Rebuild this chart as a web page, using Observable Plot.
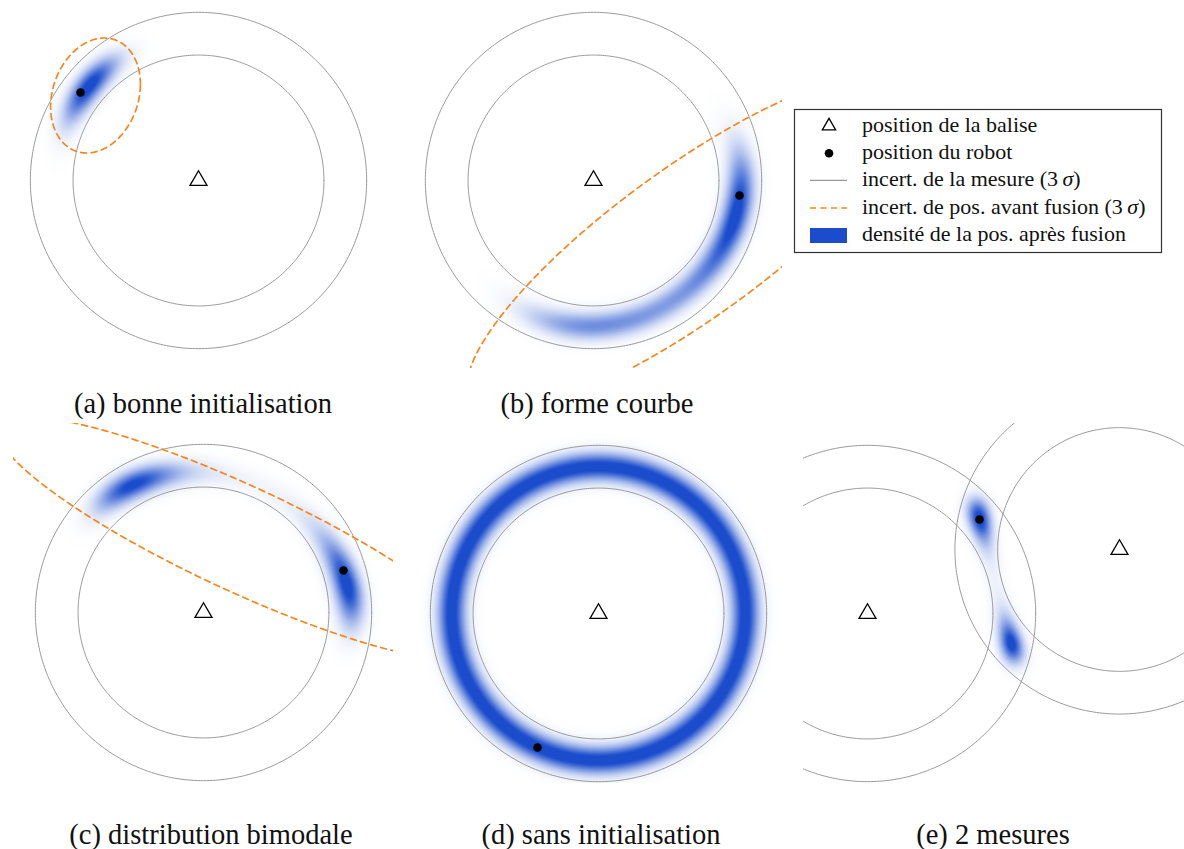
<!DOCTYPE html>
<html><head><meta charset="utf-8">
<script src="https://cdn.jsdelivr.net/npm/d3@7"></script>
<script src="https://cdn.jsdelivr.net/npm/@observablehq/plot@0.6"></script>
<style>
body{margin:0;background:#fff;}
#fig{position:relative;width:1184px;height:849px;overflow:hidden;font-family:"Liberation Serif","Times New Roman",serif;}
.panel{position:absolute;overflow:hidden;}
.panel svg{display:block;}
</style></head><body><div id="fig"></div>
<script>
// ---------------- data (world units) ----------------
const panelIds = ["a", "b", "c", "d", "e"];
const captions = ["(a) bonne initialisation", "(b) forme courbe", "(c) distribution bimodale", "(d) sans initialisation", "(e) 2 mesures"];
// beacons (balises) and their range measurement
const beaconPanel = ["a", "b", "c", "d", "e", "e"];
const beaconX = [0, 0, 0, 0, 0, 6.3];
const beaconY = [0, 0, 0, 0, 0, 1.6];
const rangeMeas = [3.67, 3.67, 3.67, 3.67, 3.67, 3.58];
const rangeSigma = 0.178;
// robot true position
const robotX = [-2.95, 3.65, 3.5, -1.525, 2.8];
const robotY = [2.2, -0.375, 1.05, -3.35, 2.35];
// prior position estimate before fusion (mean + covariance)
const priorPanel = ["a", "b", "c"];
const priorMeanX = [-2.575, 2.425, 0.93];
const priorMeanY = [2.125, -1.55, 1.85];
const priorVarX = [0.14, 3.465, 4.100];
const priorVarY = [0.2296, 2.002, 1.031];
const priorCovXY = [0.0351, 2.224, -1.811];
// legend labels
const legendLabels = ["position de la balise", "position du robot", "incert. de la mesure (3\u2009σ)", "incert. de pos. avant fusion (3\u2009σ)", "densité de la pos. après fusion"];

// ---------------- layout / style ----------------
const BLUE = "#1a4ccc", ORANGE = "#f5861f", GRAY = "#9a9a9a";
const PX = 40;      // pixels per world unit
const SAT = 0.85;   // colour saturation level (fraction of the peak)
const GAMMA = 0.6;  // colour ramp exponent
const layout = {
  a: {left: 8, top: 0, width: 386, height: 372, ox: 198, oy: 180},
  b: {left: 405, top: 0, width: 377, height: 368, ox: 593, oy: 180},
  c: {left: 13, top: 423, width: 380, height: 360, ox: 203, oy: 612},
  d: {left: 410, top: 423, width: 378, height: 360, ox: 598, oy: 613},
  e: {left: 803, top: 423, width: 381, height: 360, ox: 867, oy: 613}
};
const capPos = {a: [203, 413], b: [597, 413], c: [211, 844], d: [601, 844], e: [993, 844]};

const fig = document.getElementById("fig");

function buildPanel(id, pi) {
  const L = layout[id];
  const xd = [(L.left - L.ox) / PX, (L.left + L.width - L.ox) / PX];
  const yd = [(L.oy - L.top - L.height) / PX, (L.oy - L.top) / PX];
  const bIdx = d3.range(beaconPanel.length).filter(i => beaconPanel[i] === id);
  const k = priorPanel.indexOf(id);
  let prior = null;
  if (k >= 0) {
    const vx = priorVarX[k], vy = priorVarY[k], c = priorCovXY[k];
    const det = vx * vy - c * c;
    prior = {mx: priorMeanX[k], my: priorMeanY[k], ia: vy / det, ib: -c / det, ic: vx / det, vx, vy, c};
  }
  const logd = (x, y) => {
    let s = 0;
    for (const i of bIdx) {
      const z = (Math.hypot(x - beaconX[i], y - beaconY[i]) - rangeMeas[i]) / rangeSigma;
      s -= 0.5 * z * z;
    }
    if (prior) {
      const dx = x - prior.mx, dy = y - prior.my;
      s -= 0.5 * (dx * dx * prior.ia + 2 * dx * dy * prior.ib + dy * dy * prior.ic);
    }
    return s;
  };
  let peak = -Infinity;
  for (let x = xd[0]; x <= xd[1]; x += 0.025)
    for (let y = yd[0]; y <= yd[1]; y += 0.025) { const v = logd(x, y); if (v > peak) peak = v; }
  const dens = (x, y) => Math.exp(logd(x, y) - peak);

  const rings = [];
  bIdx.forEach(i => [-3, 3].forEach(s => {
    const R = rangeMeas[i] + s * rangeSigma;
    d3.range(0, 361).forEach(a => rings.push({ring: i + ":" + s, x: beaconX[i] + R * Math.cos(a * Math.PI / 180), y: beaconY[i] + R * Math.sin(a * Math.PI / 180)}));
  }));
  const ell = [];
  if (prior) {
    const l11 = Math.sqrt(prior.vx), l21 = prior.c / l11, l22 = Math.sqrt(prior.vy - l21 * l21);
    d3.range(0, 361).forEach(a => {
      const t = a * Math.PI / 180;
      ell.push({x: prior.mx + 3 * l11 * Math.cos(t), y: prior.my + 3 * (l21 * Math.cos(t) + l22 * Math.sin(t))});
    });
  }
  const beacons = bIdx.map(i => ({x: beaconX[i], y: beaconY[i]}));
  const robot = [{x: robotX[pi], y: robotY[pi]}];

  const plot = Plot.plot({
    width: L.width, height: L.height, margin: 0,
    style: {background: "transparent", overflow: "hidden"},
    x: {domain: xd, axis: null},
    y: {domain: yd, axis: null},
    color: {type: "pow", exponent: GAMMA, domain: [0, SAT], range: ["#ffffff", BLUE], clamp: true, interpolate: "rgb"},
    marks: [
      Plot.raster({x1: xd[0], x2: xd[1], y1: yd[0], y2: yd[1], fill: dens, pixelSize: 1}),
      Plot.line(rings, {x: "x", y: "y", z: "ring", stroke: GRAY, strokeWidth: 1, clip: true}),
      Plot.line(ell, {x: "x", y: "y", stroke: ORANGE, strokeWidth: 1.7, strokeDasharray: "6,4.5", clip: true}),
      Plot.dot(beacons, {x: "x", y: "y", symbol: "triangle", r: 6.3, stroke: "black", fill: "none", strokeWidth: 1.3}),
      Plot.dot(robot, {x: "x", y: "y", r: 4.3, fill: "black"})
    ]
  });
  const div = document.createElement("div");
  div.className = "panel";
  div.style.left = L.left + "px"; div.style.top = L.top + "px";
  div.style.width = L.width + "px"; div.style.height = L.height + "px";
  div.appendChild(plot);
  fig.appendChild(div);
}
panelIds.forEach((id, i) => buildPanel(id, i));

// captions
const over = d3.select(fig).append("svg")
  .attr("width", 1184).attr("height", 849)
  .style("position", "absolute").style("left", 0).style("top", 0).style("pointer-events", "none");
panelIds.forEach((id, i) => {
  over.append("text").attr("x", capPos[id][0]).attr("y", capPos[id][1])
    .attr("text-anchor", "middle").attr("font-size", 28.5).attr("fill", "#111")
    .attr("font-family", "'Liberation Serif', 'Times New Roman', serif").text(captions[i]);
});

// legend
const lg = over.append("g").attr("transform", "translate(794,109)");
lg.append("rect").attr("x", 0.5).attr("y", 0.5).attr("width", 367).attr("height", 143).attr("fill", "white").attr("stroke", "#333").attr("stroke-width", 1.2);
const rowY = [17, 44.3, 71.3, 99, 126.5];
const tri = d3.symbol(d3.symbolTriangle2, 127)();
lg.append("path").attr("d", tri).attr("transform", `translate(35,${rowY[0]})`).attr("fill", "none").attr("stroke", "black").attr("stroke-width", 1.3);
lg.append("circle").attr("cx", 35).attr("cy", rowY[1]).attr("r", 4.3).attr("fill", "black");
lg.append("line").attr("x1", 16).attr("x2", 53).attr("y1", rowY[2]).attr("y2", rowY[2]).attr("stroke", GRAY).attr("stroke-width", 1.2);
lg.append("line").attr("x1", 16).attr("x2", 53).attr("y1", rowY[3]).attr("y2", rowY[3]).attr("stroke", ORANGE).attr("stroke-width", 1.7).attr("stroke-dasharray", "6,4.5");
lg.append("rect").attr("x", 16).attr("y", rowY[4] - 7.5).attr("width", 37).attr("height", 15).attr("fill", BLUE);
legendLabels.forEach((t, i) => {
  const tx = lg.append("text").attr("x", 68).attr("y", rowY[i] + 5.5).attr("font-size", 22).attr("fill", "#111")
    .attr("font-family", "'Liberation Serif', 'Times New Roman', serif");
  const m = t.match(/^(.*\(3\u2009)σ(\))$/);
  if (m) { tx.append("tspan").text(m[1]); tx.append("tspan").attr("font-style", "italic").text("σ"); tx.append("tspan").text(m[2]); }
  else tx.text(t);
});
</script></body></html>
